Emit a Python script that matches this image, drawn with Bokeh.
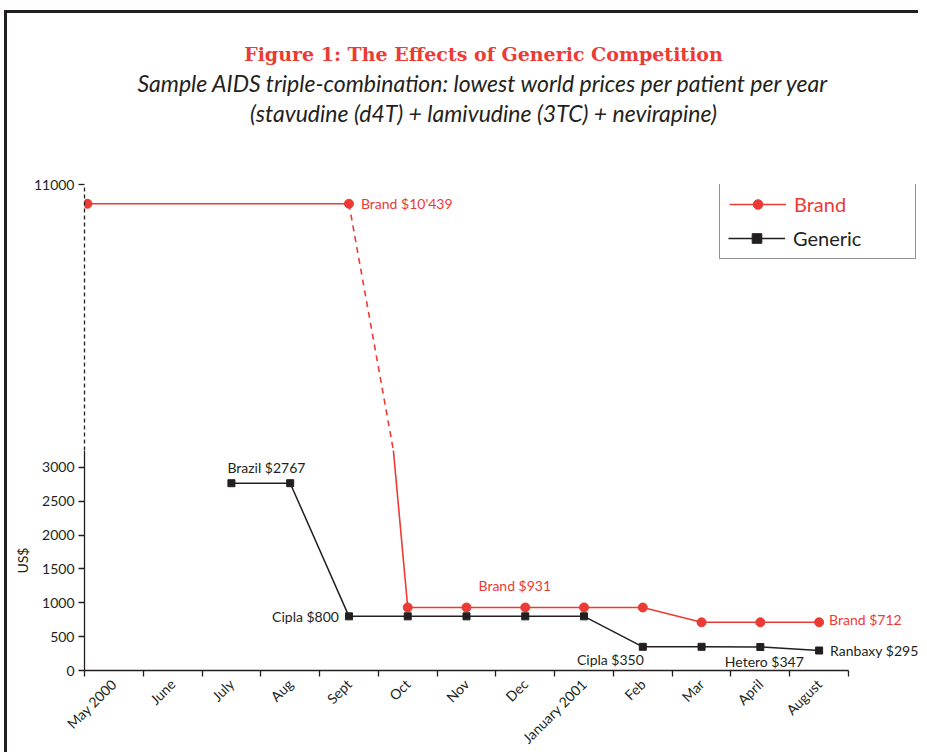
from math import pi

from bokeh.embed import file_html
from bokeh.layouts import column
from bokeh.models import FixedTicker, Label, Legend, LegendItem, Range1d
from bokeh.plotting import figure
from bokeh.resources import INLINE

# ---------------- data ----------------
months = ["May 2000", "June", "July", "Aug", "Sept", "Oct", "Nov", "Dec",
          "January 2001", "Feb", "Mar", "April", "August"]

brand_months = ["May 2000", "Sept", "Oct", "Nov", "Dec", "January 2001",
                "Feb", "Mar", "April", "August"]
brand_prices = [10439, 10439, 931, 931, 931, 931, 931, 712, 712, 712]

generic_months = ["July", "Aug", "Sept", "Oct", "Nov", "Dec", "January 2001",
                  "Feb", "Mar", "April", "August"]
generic_prices = [2767, 2767, 800, 800, 800, 800, 800, 350, 350, 347, 295]

low_ticks = [0, 500, 1000, 1500, 2000, 2500, 3000]
high_ticks = [11000]

note_texts = ["Brand $10'439", "Brand $931", "Brand $712", "Brazil $2767",
              "Cipla $800", "Cipla $350", "Hetero $347", "Ranbaxy $295"]
note_months = ["Sept", "Nov", "August", "July", "Sept", "Feb", "April", "August"]
note_values = [10439, 931, 712, 2767, 800, 350, 347, 295]
note_series = ["brand", "brand", "brand", "generic", "generic", "generic",
               "generic", "generic"]

title_text = "Figure 1: The Effects of Generic Competition"
subtitle_1 = "Sample AIDS triple-combination: lowest world prices per patient per year"
subtitle_2 = "(stavudine (d4T) + lamivudine (3TC) + nevirapine)"

# ---------------- styles / layout ----------------
RED = "#ec3a35"
INK = "#231f20"
FONT = "Lato"

note_align = ["left", "left", "left", "left", "right", "right", "center", "left"]
note_dx = [12, 12, 10, -4, -10, 1, 4, 11]
note_dy = [0, 22, 3, 16, 0, -13, -14, 0]

HEAD_Y0 = 22             # page y that maps to header y = 0
FRAME_X0 = 84            # page x of the plot frames
UNIT = 764 / 13          # px per month
FRAME_W = 834
X_END = FRAME_W / UNIT
LEFT = 77
HEAD_H = 159
TOP_BORDER = 12
TOP_FRAME_H = 266
BOT_FRAME_H = 220
SPLIT = 3250             # value where the axis is broken
Y_MAX = 11000


def mid(m):
    return months.index(m) + 0.5


def start(m):
    return months.index(m) + 0.05


brand_x = [start(m) if i == 0 else mid(m) for i, m in enumerate(brand_months)]
generic_x = [mid(m) for m in generic_months]

xr = Range1d(0, X_END)


def style_common(p):
    p.grid.visible = False
    p.outline_line_color = None
    p.background_fill_color = "white"
    p.border_fill_color = "white"


def style_axis(ax):
    ax.axis_line_color = INK
    ax.axis_line_width = 1.3
    ax.major_tick_line_color = INK
    ax.major_tick_line_width = 1.3
    ax.minor_tick_line_color = INK
    ax.minor_tick_line_width = 1.3
    ax.major_label_text_font = FONT
    ax.major_label_text_font_size = "14px"
    ax.major_label_text_color = INK
    ax.axis_label_text_font = FONT
    ax.axis_label_text_font_size = "14px"
    ax.axis_label_text_font_style = "normal"
    ax.axis_label_text_color = INK


# ---------------- header (titles) ----------------
head = figure(frame_width=FRAME_W, frame_height=HEAD_H,
              x_range=Range1d(0, FRAME_W), y_range=Range1d(HEAD_H, 0),
              x_axis_location=None, y_axis_location=None,
              min_border_left=LEFT, min_border_right=0, min_border_top=0,
              min_border_bottom=0, output_backend="svg",
              toolbar_location=None, title=None)
style_common(head)
CX = 483 - FRAME_X0
head.add_layout(Label(x=CX, y=62 - HEAD_Y0, text=title_text, text_align="center",
                      text_baseline="alphabetic", text_color=RED,
                      text_font="DejaVu Serif", text_font_style="bold",
                      text_font_size="19px"))
head.add_layout(Label(x=CX, y=91 - HEAD_Y0, text=subtitle_1, text_align="center",
                      text_baseline="alphabetic", text_color=INK,
                      text_font=FONT, text_font_style="italic",
                      text_font_size="23px"))
head.add_layout(Label(x=CX, y=121 - HEAD_Y0, text=subtitle_2, text_align="center",
                      text_baseline="alphabetic", text_color=INK,
                      text_font=FONT, text_font_style="italic",
                      text_font_size="23px"))

# ---------------- top panel (high values) ----------------
top = figure(frame_width=FRAME_W, frame_height=TOP_FRAME_H, x_range=xr,
             y_range=Range1d(SPLIT, Y_MAX), x_axis_location=None,
             min_border_left=LEFT, min_border_top=TOP_BORDER,
             min_border_bottom=0, min_border_right=0,
             output_backend="svg", toolbar_location=None, title=None)
style_common(top)
ya = top.yaxis[0]
style_axis(ya)
ya.ticker = FixedTicker(ticks=high_ticks)
ya.axis_line_dash = "4 3"
ya.major_tick_out = 6
ya.major_tick_in = 0
ya.minor_tick_out = 0
ya.minor_tick_in = 0
ya.major_label_standoff = 4

b_solid = top.line(brand_x[:2], brand_prices[:2], color=RED, line_width=1.6)
top.line(brand_x[1:3], brand_prices[1:3], color=RED, line_width=1.6,
         line_dash="6 5")
top.line(brand_x[2:], brand_prices[2:], color=RED, line_width=1.6)
b_pts = top.scatter(brand_x, brand_prices, marker="circle", size=9, color=RED)
g_line = top.line(generic_x, generic_prices, color=INK, line_width=1.5)
g_pts = top.scatter(generic_x, generic_prices, marker="square", size=7, color=INK)
blank = top.line(x=[], y=[], line_alpha=0)

leg_kw = dict(location=(635, 191), padding=9, spacing=9, label_height=24,
              glyph_height=24, glyph_width=57, label_standoff=8, label_width=112,
              label_text_font=FONT, label_text_font_size="20px", margin=0)
leg_a = Legend(items=[LegendItem(label="Brand", renderers=[b_solid, b_pts]),
                      LegendItem(label=" ", renderers=[blank])],
               label_text_color=RED, border_line_color=INK,
               border_line_width=1.2, background_fill_color="white",
               background_fill_alpha=1, **leg_kw)
leg_b = Legend(items=[LegendItem(label=" ", renderers=[blank]),
                      LegendItem(label="Generic", renderers=[g_line, g_pts])],
               label_text_color=INK, border_line_alpha=0,
               background_fill_alpha=0, **leg_kw)
top.add_layout(leg_a)
top.add_layout(leg_b)

# ---------------- bottom panel (low values) ----------------
bot = figure(frame_width=FRAME_W, frame_height=BOT_FRAME_H, x_range=xr,
             y_range=Range1d(0, SPLIT), min_border_left=LEFT, min_border_top=0,
             min_border_right=0, min_border_bottom=82,
             output_backend="svg", toolbar_location=None, title=None)
style_common(bot)
yb = bot.yaxis[0]
style_axis(yb)
yb.ticker = FixedTicker(ticks=low_ticks)
yb.major_tick_out = 6
yb.major_tick_in = 0
yb.major_label_standoff = 4
yb.axis_label = "US$"
yb.axis_label_standoff = 8

xa = bot.xaxis[0]
style_axis(xa)
xa.ticker = FixedTicker(ticks=[i + 0.5 for i in range(len(months))],
                        minor_ticks=list(range(len(months) + 1)))
xa.major_label_overrides = {i + 0.5: m for i, m in enumerate(months)}
xa.major_tick_out = 0
xa.major_tick_in = 0
xa.minor_tick_out = 6
xa.minor_tick_in = 0
xa.bounds = (0, len(months))
xa.major_label_orientation = pi / 4
xa.major_label_standoff = 5
xa.major_label_text_font_size = "14px"

bot.line(brand_x, brand_prices, color=RED, line_width=1.6)
bot.scatter(brand_x, brand_prices, marker="circle", size=9, color=RED)
bot.line(generic_x, generic_prices, color=INK, line_width=1.5)
bot.scatter(generic_x, generic_prices, marker="square", size=7, color=INK)

for t, m, v, s, al, dx, dy in zip(note_texts, note_months, note_values,
                                  note_series, note_align, note_dx, note_dy):
    target = top if v > SPLIT else bot
    target.add_layout(Label(x=mid(m), y=v, text=t, x_offset=dx, y_offset=dy,
                            text_align=al, text_baseline="middle",
                            text_color=RED if s == "brand" else INK,
                            text_font=FONT, text_font_size="14px"))

layout = column(head, top, bot, spacing=0,
                styles={"border-left": f"3px solid {INK}",
                        "border-top": f"3px solid {INK}",
                        "margin-left": "4px", "margin-top": "10px"})

open("out.html", "w").write(file_html(layout, INLINE))
